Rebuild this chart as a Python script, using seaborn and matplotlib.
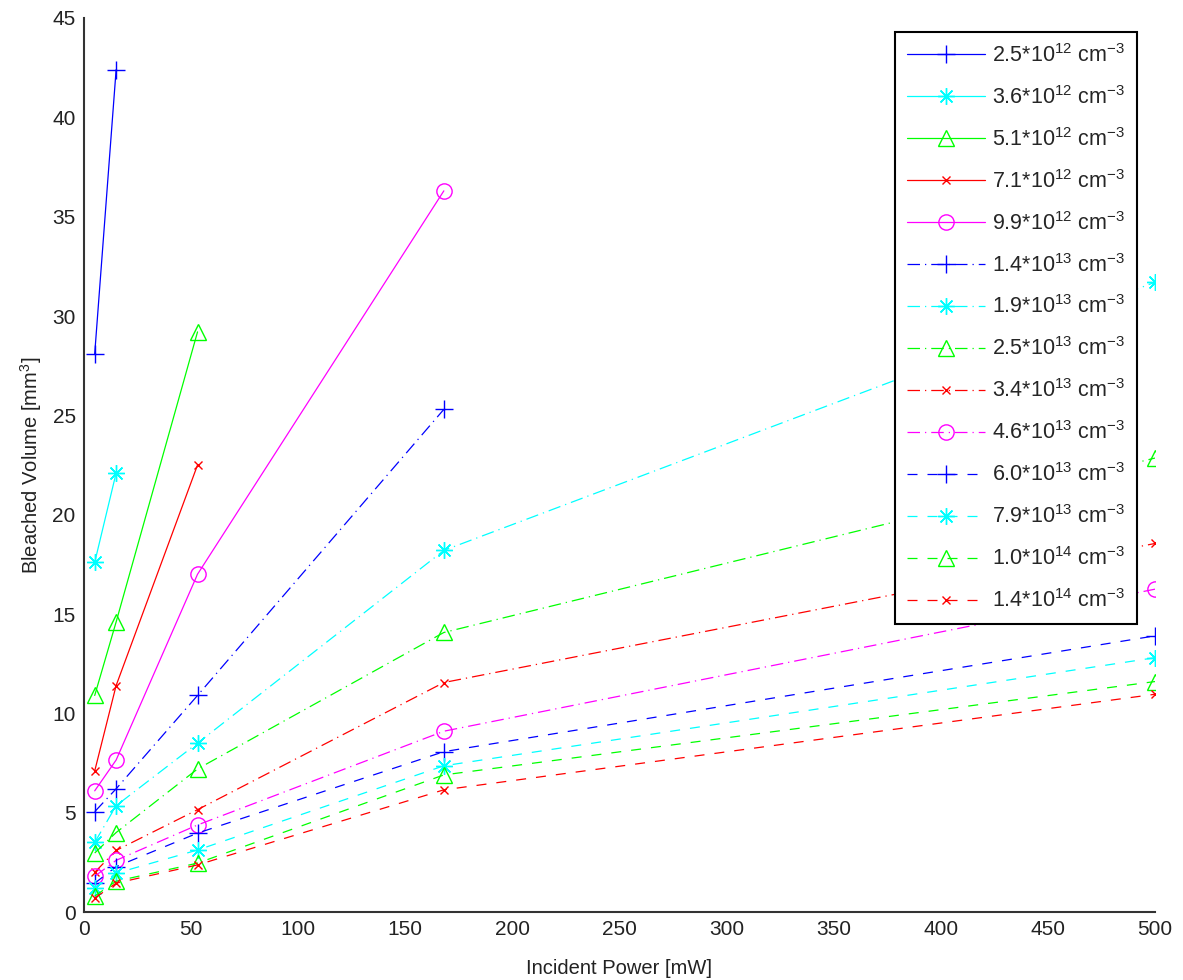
import matplotlib
matplotlib.use("Agg")
import matplotlib.pyplot as plt
import seaborn as sns
import pandas as pd

power = [5, 15, 53, 168, 500]

labels = [
    r"2.5*10$^{12}$ cm$^{-3}$", r"3.6*10$^{12}$ cm$^{-3}$", r"5.1*10$^{12}$ cm$^{-3}$",
    r"7.1*10$^{12}$ cm$^{-3}$", r"9.9*10$^{12}$ cm$^{-3}$", r"1.4*10$^{13}$ cm$^{-3}$",
    r"1.9*10$^{13}$ cm$^{-3}$", r"2.5*10$^{13}$ cm$^{-3}$", r"3.4*10$^{13}$ cm$^{-3}$",
    r"4.6*10$^{13}$ cm$^{-3}$", r"6.0*10$^{13}$ cm$^{-3}$", r"7.9*10$^{13}$ cm$^{-3}$",
    r"1.0*10$^{14}$ cm$^{-3}$", r"1.4*10$^{14}$ cm$^{-3}$",
]

v_25e12 = [28.1, 42.4]
v_36e12 = [17.6, 22.1]
v_51e12 = [10.9, 14.6, 29.2]
v_71e12 = [7.1, 11.4, 22.5]
v_99e12 = [6.1, 7.65, 17.0, 36.3]
v_14e13 = [5.05, 6.2, 10.9, 25.3]
v_19e13 = [3.5, 5.35, 8.5, 18.2, 31.7]
v_25e13 = [2.97, 4.0, 7.2, 14.07, 22.85]
v_34e13 = [2.0, 3.1, 5.15, 11.55, 18.55]
v_46e13 = [1.8, 2.6, 4.38, 9.1, 16.25]
v_60e13 = [1.45, 2.28, 3.97, 8.07, 13.9]
v_79e13 = [1.2, 1.95, 3.12, 7.36, 12.8]
v_10e14 = [0.8, 1.55, 2.46, 6.9, 11.6]
v_14e14 = [0.7, 1.45, 2.37, 6.15, 10.96]

series = [v_25e12, v_36e12, v_51e12, v_71e12, v_99e12, v_14e13, v_19e13,
          v_25e13, v_34e13, v_46e13, v_60e13, v_79e13, v_10e14, v_14e14]

xticks = [0, 50, 100, 150, 200, 250, 300, 350, 400, 450, 500]
yticks = [0, 5, 10, 15, 20, 25, 30, 35, 40, 45]

colors = ["#0000ff", "#00ffff", "#00ff00", "#ff0000", "#ff00ff"]
markers = ["+", (8, 2, 0), "^", "x", "o"]
msizes = [13, 12, 11, 5.5, 11]

sns.set_style("white")
plt.rcParams["font.family"] = ["Liberation Sans", "DejaVu Sans"]
plt.rcParams["mathtext.fontset"] = "custom"
plt.rcParams["mathtext.rm"] = "Liberation Sans"
plt.rcParams["mathtext.it"] = "Liberation Sans:italic"
plt.rcParams["mathtext.bf"] = "Liberation Sans:bold"

fig = plt.figure(figsize=(11.83, 9.8), dpi=100)
ax = fig.add_axes([84 / 1183, 68 / 980, (1155 - 84) / 1183, (912 - 18) / 980])

for i, (vals, lab) in enumerate(zip(series, labels)):
    c = colors[i % 5]
    m = markers[i % 5]
    if i < 5:
        ls = "-"
        dashes = None
    elif i < 10:
        ls = "-."
        dashes = (10, 4, 1, 4)
    else:
        ls = "--"
        dashes = (8, 8)
    df = pd.DataFrame({"x": power[:len(vals)], "y": vals})
    kw = dict(color=c, marker=m, markersize=msizes[i % 5], markerfacecolor="none",
              markeredgecolor=c, markeredgewidth=1.0, linewidth=0.9, label=lab)
    sns.lineplot(data=df, x="x", y="y", ax=ax, **kw)
    line = ax.get_lines()[-1]
    line.set_linestyle(ls)
    if dashes is not None:
        line.set_dashes(dashes)

ax.set_xlim(0, 500)
ax.set_ylim(0, 45)
ax.set_xticks(xticks)
ax.set_yticks(yticks)
ax.tick_params(axis="both", direction="in", length=8, width=1.2, color="#333333",
               labelsize=15, pad=6, labelcolor="#222222")
for s in ["top", "right"]:
    ax.spines[s].set_visible(False)
for s in ["left", "bottom"]:
    ax.spines[s].set_color("#333333")
    ax.spines[s].set_linewidth(1.5)

ax.set_xlabel("Incident Power [mW]", fontsize=14.5, color="#222222", labelpad=14)
ax.set_ylabel(r"Bleached Volume [mm$^3$]", fontsize=14.5, color="#222222", labelpad=6)

leg = ax.legend(loc="upper right", bbox_to_anchor=(1137 / 1183, 1 - 32 / 980),
                bbox_transform=fig.transFigure, borderaxespad=0, fontsize=15.5,
                frameon=True, fancybox=False, edgecolor="black", framealpha=1,
                handlelength=3.6, labelspacing=0.885, borderpad=0.55, handletextpad=0.35)
leg.get_frame().set_linewidth(1.5)

fig.savefig("out.png", dpi=100)
